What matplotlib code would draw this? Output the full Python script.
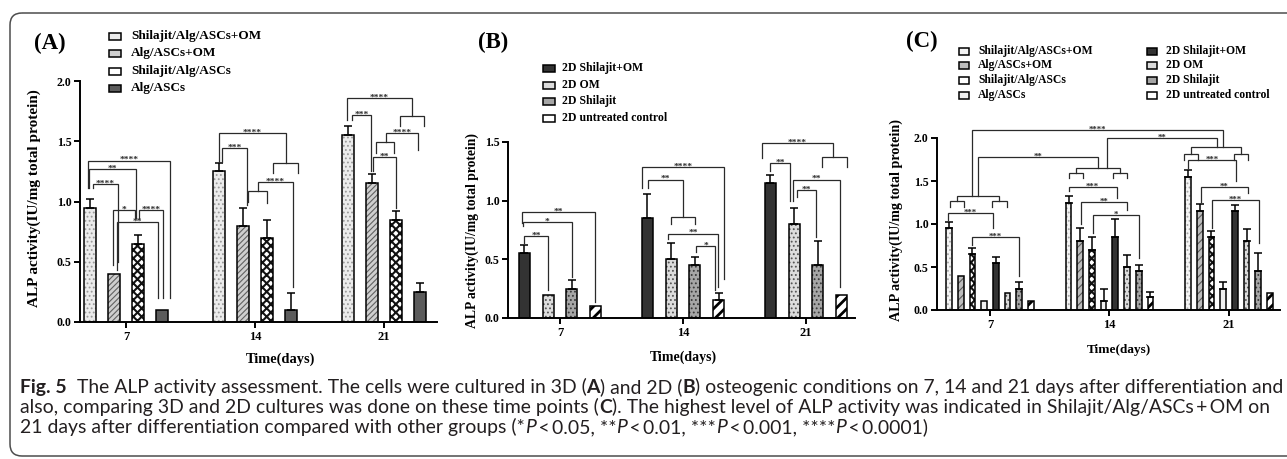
import matplotlib
matplotlib.use("Agg")
import matplotlib.pyplot as plt
from matplotlib.patches import Rectangle, FancyBboxPatch

plt.rcParams["font.family"] = ["Liberation Serif", "DejaVu Serif"]
plt.rcParams["font.weight"] = "bold"
plt.rcParams["hatch.linewidth"] = 0.8

days = ["7", "14", "21"]

# 3D alginate scaffold groups: mean and SD per day
shil_alg_om = [0.95, 1.25, 1.55]
shil_alg_om_sd = [0.07, 0.07, 0.08]
alg_om = [0.40, 0.80, 1.15]
alg_om_sd = [0.0, 0.15, 0.08]
shil_alg = [0.65, 0.70, 0.85]
shil_alg_sd = [0.07, 0.15, 0.07]
alg = [0.10, 0.10, 0.25]
alg_sd = [0.0, 0.14, 0.07]

# 2D culture groups
d2_shil_om = [0.55, 0.85, 1.15]
d2_shil_om_sd = [0.07, 0.21, 0.07]
d2_om = [0.20, 0.50, 0.80]
d2_om_sd = [0.0, 0.14, 0.14]
d2_shil = [0.25, 0.45, 0.45]
d2_shil_sd = [0.07, 0.07, 0.21]
d2_ctrl = [0.10, 0.15, 0.20]
d2_ctrl_sd = [0.0, 0.06, 0.0]

names_3d = ["Shilajit/Alg/ASCs+OM", "Alg/ASCs+OM", "Shilajit/Alg/ASCs", "Alg/ASCs"]
names_2d = ["2D Shilajit+OM", "2D OM", "2D Shilajit", "2D untreated control"]
series_3d = [(shil_alg_om, shil_alg_om_sd), (alg_om, alg_om_sd),
             (shil_alg, shil_alg_sd), (alg, alg_sd)]
series_2d = [(d2_shil_om, d2_shil_om_sd), (d2_om, d2_om_sd),
             (d2_shil, d2_shil_sd), (d2_ctrl, d2_ctrl_sd)]

# significance brackets: (group, bar) left, (group, bar) right, height,
# left leg end, right leg end, label
brackets_a = [
    ((0, -0.08), (0, 3.33), 1.34, 1.11, 0.20, "****"),
    ((0, -0.04), (0, 1.92), 1.27, 1.11, 0.86, "**"),
    ((0, 0.12), (0, 1.17), 1.145, 1.11, 0.50, "****"),
    ((0, 0.96), (0, 1.88), 0.93, 0.47, 0.86, "*"),
    ((0, 2.04), (0, 3.04), 0.93, 0.86, 0.20, "****"),
    ((0, 1.12), (0, 2.83), 0.83, 0.43, 0.20, "**"),
    ((1, 0.00), (1, 2.79), 1.57, 1.33, 1.32, "****"),
    ((1, 2.25), (1, 3.29), 1.32, 1.24, 1.24, ""),
    ((1, 0.12), (1, 1.17), 1.445, 1.33, 0.97, "***"),
    ((1, 1.21), (1, 2.00), 1.09, 1.00, 0.99, ""),
    ((1, 1.62), (1, 3.08), 1.16, 1.09, 0.29, "****"),
    ((2, -0.04), (2, 2.67), 1.86, 1.68, 1.71, "****"),
    ((2, 2.17), (2, 3.17), 1.71, 1.63, 1.63, ""),
    ((2, 0.17), (2, 0.96), 1.72, 1.68, 1.25, "***"),
    ((2, 1.58), (2, 2.92), 1.57, 1.49, 1.43, "****"),
    ((2, 1.17), (2, 1.92), 1.49, 1.40, 1.40, ""),
    ((2, 1.04), (2, 2.00), 1.37, 1.25, 0.95, "**"),
]
brackets_b = [
    ((0, -0.10), (0, 2.98), 0.90, 0.81, 0.14, "**"),
    ((0, -0.06), (0, 2.00), 0.82, 0.78, 0.35, "*"),
    ((0, 0.00), (0, 1.00), 0.70, 0.64, 0.24, "**"),
    ((1, -0.23), (1, 3.23), 1.29, 1.11, 0.33, "****"),
    ((1, 0.02), (1, 1.49), 1.18, 1.11, 0.86, "**"),
    ((1, 1.00), (1, 2.00), 0.86, 0.80, 0.80, ""),
    ((1, 0.86), (1, 2.98), 0.72, 0.67, 0.26, "**"),
    ((1, 2.05), (1, 2.85), 0.61, 0.56, 0.24, "*"),
    ((2, -0.36), (2, 2.64), 1.49, 1.36, 1.37, "****"),
    ((2, 2.17), (2, 3.23), 1.37, 1.29, 1.29, ""),
    ((2, 0.00), (2, 0.82), 1.32, 1.25, 1.00, "**"),
    ((2, 0.95), (2, 2.94), 1.18, 1.00, 0.26, "**"),
    ((2, 1.12), (2, 1.92), 1.09, 1.03, 0.69, "**"),
]
brackets_c = [
    ((0, 0.09), (0, 1.28), 1.27, 1.20, 1.20, ""),
    ((0, 3.67), (0, 4.94), 1.27, 1.20, 1.20, ""),
    ((0, 0.69), (0, 4.26), 1.33, 1.27, 1.27, ""),
    ((0, -0.08), (0, 3.75), 1.13, 1.05, 0.95, "***"),
    ((0, 1.97), (0, 5.97), 0.85, 0.76, 0.39, "***"),
    ((1, 0.00), (1, 1.28), 1.59, 1.53, 1.53, ""),
    ((1, 3.84), (1, 5.03), 1.59, 1.53, 1.53, ""),
    ((1, 0.60), (1, 4.44), 1.65, 1.59, 1.59, ""),
    ((1, 0.00), (1, 4.10), 1.43, 1.38, 1.30, "***"),
    ((1, 1.03), (1, 5.03), 1.26, 1.00, 1.16, "**"),
    ((1, 2.05), (1, 6.05), 1.10, 0.90, 0.60, "*"),
    ((2, -0.33), (2, 0.86), 1.81, 1.74, 1.74, ""),
    ((2, 3.92), (2, 5.11), 1.81, 1.74, 1.74, ""),
    ((2, 0.26), (2, 4.50), 1.90, 1.81, 1.81, ""),
    ((2, 0.00), (2, 4.09), 1.74, 1.65, 1.50, "***"),
    ((2, 1.10), (2, 5.11), 1.43, 1.26, 1.36, "**"),
    ((2, 2.05), (2, 6.05), 1.28, 0.95, 0.78, "***"),
    ((0, 1.97), (2, 2.99), 2.09, 1.33, 1.90, "****"),
    ((0, 2.48), (1, 2.48), 1.78, 1.33, 1.65, "**"),
    ((1, 3.33), (2, 2.48), 2.00, 1.65, 1.90, "**"),
]

# face colour, hatch colour, hatch
styles = {
    "Shilajit/Alg/ASCs+OM": ("#ebebeb", "#9a9a9a", "...."),
    "Alg/ASCs+OM": ("#cfcfcf", "#616161", "//////"),
    "Shilajit/Alg/ASCs": ("white", "#111111", "xxxx"),
    "Alg/ASCs": ("#5c5c5c", None, None),
    "2D Shilajit+OM": ("#333333", None, None),
    "2D OM": ("#dcdcdc", "#555555", "...."),
    "2D Shilajit": ("#a6a6a6", "#3a3a3a", "...."),
    "2D untreated control": ("white", "black", "///"),
}
styles_c = dict(styles)
styles_c["Shilajit/Alg/ASCs+OM"] = ("#f4f4f4", "#a8a8a8", "....")
styles_c["Alg/ASCs+OM"] = ("#bdbdbd", "#5a5a5a", "////")
styles_c["Alg/ASCs"] = ("#f0f0f0", None, None)

HATCH_LW = {"///": 2.0, "xxxx": 1.5}
BRACKET_C = "#2a2a2a"


def hatched(draw, face, hcol, hatch):
    # hatch layer with its own colour, then a black outline on top
    if hatch:
        patches = draw(color=face, edgecolor=hcol, hatch=hatch, linewidth=0)
        if hatch in HATCH_LW:
            for p in patches:
                if hasattr(p, "set_hatch_linewidth"):
                    p.set_hatch_linewidth(HATCH_LW[hatch])
    else:
        draw(color=face, linewidth=0)
    draw(fill=False, edgecolor="black", linewidth=1.1)


def bar_x(g, b, n, sp):
    return g + (b - (n - 1) / 2) * sp


def draw_bars(ax, series, names, sty, sp, width):
    n = len(series)
    for i, ((vals, sds), name) in enumerate(zip(series, names)):
        face, hcol, hatch = sty[name]
        xs = [bar_x(g, i, n, sp) for g in range(len(days))]

        def draw(**kw):
            z = 3 if kw.get("fill") is False else 2
            return ax.bar(xs, vals, width, zorder=z, **kw).patches

        hatched(draw, face, hcol, hatch)
        for x, v, s in zip(xs, vals, sds):
            if s > 0:
                ax.errorbar(x, v, yerr=[[0], [s]], fmt="none", ecolor="black",
                            elinewidth=1.1, capsize=2.8, capthick=1.1, zorder=4)


def draw_brackets(ax, brackets, n, sp, fs):
    for (g1, b1), (g2, b2), y, yb1, yb2, label in brackets:
        x1 = bar_x(g1, b1, n, sp)
        x2 = bar_x(g2, b2, n, sp)
        ax.plot([x1, x1, x2, x2], [yb1, y, y, yb2], color=BRACKET_C, lw=0.9,
                clip_on=False, zorder=5, solid_joinstyle="miter")
        if label:
            ax.annotate(label, ((x1 + x2) / 2, y), xytext=(0, -1.2),
                        textcoords="offset points", ha="center", va="baseline",
                        fontsize=fs, color=BRACKET_C, annotation_clip=False, zorder=6)


def style_axes(ax, xlim, ylim, yticks):
    ax.set_xlim(*xlim)
    ax.set_ylim(*ylim)
    ax.set_xticks(range(len(days)))
    ax.set_xticklabels(days)
    ax.set_yticks(yticks)
    ax.set_yticklabels([f"{t:.1f}" for t in yticks])
    for s in ("top", "right"):
        ax.spines[s].set_visible(False)
    for s in ("left", "bottom"):
        ax.spines[s].set_linewidth(1.4)
    ax.tick_params(axis="y", direction="out", length=4, width=1.4, labelsize=8.6, pad=2)
    ax.tick_params(axis="x", direction="out", length=4, width=1.4, labelsize=9, pad=2.5)
    ax.patch.set_visible(False)


W, H = 1287, 459
fig = plt.figure(figsize=(W / 100, H / 100), dpi=100)

# overlay in pixel coordinates for frame, legends, labels and caption
ov = fig.add_axes([0, 0, 1, 1])
ov.set_xlim(0, W)
ov.set_ylim(H, 0)
ov.axis("off")
ov.add_patch(FancyBboxPatch((10, 13), 1320, 443, boxstyle="round,pad=0,rounding_size=12",
                            fill=False, ec="#4d4d4d", lw=1.1))


def px_axes(x0, x1, ytop, ybot):
    return fig.add_axes([x0 / W, (H - ybot) / H, (x1 - x0) / W, (ybot - ytop) / H])


# ---- (A) 3D ----
ax = px_axes(80, 437, 81, 322)
style_axes(ax, (-0.357, 2.411), (0, 2.0), [0, 0.5, 1.0, 1.5, 2.0])
draw_bars(ax, series_3d, names_3d, styles, 0.186, 0.09)
draw_brackets(ax, brackets_a, 4, 0.186, 6.8)

# ---- (B) 2D ----
ax = px_axes(508, 855, 142, 318)
style_axes(ax, (-0.423, 2.398), (0, 1.5), [0, 0.5, 1.0, 1.5])
draw_bars(ax, series_2d, names_2d, styles, 0.193, 0.09)
draw_brackets(ax, brackets_b, 4, 0.193, 6.8)

# ---- (C) 3D vs 2D ----
ax = px_axes(937, 1280, 138, 310)
style_axes(ax, (-0.4435, 2.427), (0, 2.0), [0, 0.5, 1.0, 1.5, 2.0])
draw_bars(ax, series_3d + series_2d, names_3d + names_2d, styles_c, 0.098, 0.048)
draw_brackets(ax, brackets_c, 8, 0.098, 6.3)

# axis titles
ylab = "ALP activity(IU/mg total protein)"
for x, y, fs in [(34, 198, 11), (472, 230, 9.8), (896, 220, 10.2)]:
    ov.text(x, y, ylab, rotation=90, ha="center", va="center", fontsize=fs)
for x, y, fs in [(280, 359, 10.4), (683, 357, 10), (1119, 350, 9.5)]:
    ov.text(x, y, "Time(days)", ha="center", va="center", fontsize=fs)
for x, y, lab in [(50, 43, "(A)"), (493, 42, "(B)"), (922, 41, "(C)")]:
    ov.text(x, y, lab, ha="center", va="center", fontsize=16.5)


def legend_entry(x, yc, w, h, tx, name, sty, fs):
    face, hcol, hatch = sty[name]

    def draw(**kw):
        return [ov.add_patch(Rectangle((x, yc - h / 2), w, h, **kw))]

    hatched(draw, face, hcol, hatch)
    ov.text(tx, yc, name, ha="left", va="center", fontsize=fs)


for name, yc in zip(names_3d, [36, 53, 71, 88]):
    legend_entry(109, yc, 12, 7, 131, name, styles, 9.5)
for name, yc in zip(names_2d, [68, 85, 101, 118]):
    legend_entry(543, yc, 12, 7, 562, name, styles, 8.5)
for name, yc in zip(names_3d, [51, 65, 80, 95]):
    legend_entry(959, yc, 10, 7, 978, name, styles_c, 8.4)
for name, yc in zip(names_2d, [51, 65, 80, 95]):
    legend_entry(1147, yc, 10, 7, 1166, name, styles_c, 8.4)

# ---- caption ----
caption = [
    [("Fig. 5", "b"), ("  The ALP activity assessment. The cells were cultured in 3D (", "n"),
     ("A", "b"), (") and 2D (", "n"), ("B", "b"),
     (") osteogenic conditions on 7, 14 and 21 days after differentiation and", "n")],
    [("also, comparing 3D and 2D cultures was done on these time points (", "n"), ("C", "b"),
     ("). The highest level of ALP activity was indicated in Shilajit/Alg/ASCs\u2009+\u2009OM on", "n")],
    [("21 days after differentiation compared with other groups (*", "n"), ("P", "i"),
     ("\u2009<\u20090.05, **", "n"), ("P", "i"), ("\u2009<\u20090.01, ***", "n"), ("P", "i"),
     ("\u2009<\u20090.001, ****", "n"), ("P", "i"), ("\u2009<\u20090.0001)", "n")],
]
cap_base = [393, 413, 433]
renderer = fig.canvas.get_renderer()


def cap_kw(style, size):
    return dict(family=["Lato", "Open Sans", "DejaVu Sans"], fontsize=size, color="#231f20",
                fontweight="bold" if style == "b" else "normal",
                fontstyle="italic" if style == "i" else "normal")


def run_width(text, kw):
    t1 = ov.text(0, 0, "|" + text + "|", **kw)
    t2 = ov.text(0, 0, "||", **kw)
    w = t1.get_window_extent(renderer).width - t2.get_window_extent(renderer).width
    t1.remove()
    t2.remove()
    return w


base = 11.0
line1 = sum(run_width(t, cap_kw(s, base)) for t, s in caption[0])
size = base * 1259 / line1
for runs, yb in zip(caption, cap_base):
    x = 20
    for text, s in runs:
        kw = cap_kw(s, size)
        ov.text(x, yb, text, ha="left", va="baseline", **kw)
        x += run_width(text, kw)

fig.savefig("out.png", dpi=100)
